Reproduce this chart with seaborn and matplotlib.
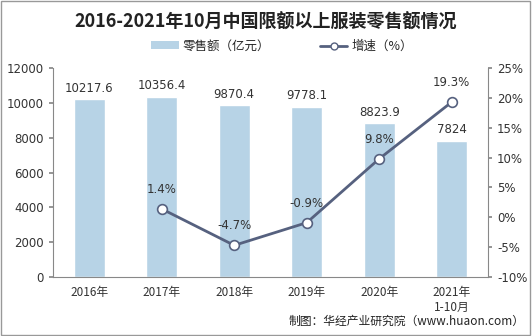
import matplotlib
matplotlib.use("Agg")
import matplotlib.pyplot as plt
import seaborn as sns
import numpy as np
import pandas as pd
from matplotlib.lines import Line2D
from matplotlib.patches import Patch, Rectangle

categories = ["2016年", "2017年", "2018年", "2019年", "2020年", "2021年\n1-10月"]
sales = [10217.6, 10356.4, 9870.4, 9778.1, 8823.9, 7824]
growth = [np.nan, 1.4, -4.7, -0.9, 9.8, 19.3]
sales_labels = ["10217.6", "10356.4", "9870.4", "9778.1", "8823.9", "7824"]
growth_labels = ["", "1.4%", "-4.7%", "-0.9%", "9.8%", "19.3%"]

sns.set_theme(style="white")
plt.rcParams['font.family'] = ['Noto Sans CJK SC', 'DejaVu Sans']
plt.rcParams['axes.unicode_minus'] = False

bar_color = "#b7d3e6"
line_color = "#56617f"
text_color = "#333333"

fig = plt.figure(figsize=(5.32, 3.36), dpi=100)
ax = fig.add_axes([53/532, 59/336, 435/532, 209/336])

df = pd.DataFrame({"cat": categories, "sales": sales, "growth": growth})
sns.barplot(data=df, x="cat", y="sales", color=bar_color, width=0.43,
            saturation=1, ax=ax, order=categories)
ax.set_ylim(0, 12000)
ax.set_yticks(range(0, 12001, 2000))
ax.set_xlabel("")
ax.set_ylabel("")
ax.tick_params(axis="both", labelsize=8.5, colors=text_color, length=3)
ax.tick_params(axis="y", direction="out", left=True, color="#888888")
ax.tick_params(axis="x", bottom=False)
for s in ["top", "right"]:
    ax.spines[s].set_visible(False)
for s in ["left", "bottom"]:
    ax.spines[s].set_color("#888888")
    ax.spines[s].set_linewidth(0.8)

for i, (v, lab) in enumerate(zip(sales, sales_labels)):
    ax.text(i, v + 250, lab, ha="center", va="bottom", fontsize=8.5,
            color=text_color, family=['DejaVu Sans'])

ax2 = ax.twinx()
pos = np.arange(len(categories))
gdf = pd.DataFrame({"x": pos, "growth": growth}).dropna()
sns.lineplot(data=gdf, x="x", y="growth", ax=ax2, color=line_color,
             linewidth=2, marker="o", markersize=7, markerfacecolor="white",
             markeredgecolor=line_color, markeredgewidth=1.2)
ax2.set_ylim(-10, 25)
ax2.set_yticks(range(-10, 26, 5))
ax2.set_yticklabels([f"{t}%" for t in range(-10, 26, 5)])
ax2.set_ylabel("")
ax2.set_xlabel("")
ax2.tick_params(axis="y", labelsize=8.5, colors=text_color, length=3,
                direction="out", right=True, color="#888888")
for s in ["top", "left", "bottom"]:
    ax2.spines[s].set_visible(False)
ax2.spines["right"].set_color("#888888")
ax2.spines["right"].set_linewidth(0.8)
ax2.set_xlim(-0.5, len(categories) - 0.5)
ax.set_xlim(-0.5, len(categories) - 0.5)

for i, (g, lab) in enumerate(zip(growth, growth_labels)):
    if not np.isnan(g):
        ax2.text(i, g + 2.2, lab, ha="center", va="bottom", fontsize=8.5,
                 color=text_color, family=['DejaVu Sans'])

for lbl in ax.get_yticklabels() + ax2.get_yticklabels():
    lbl.set_family(['DejaVu Sans', 'Noto Sans CJK SC'])
for lbl in ax.get_xticklabels():
    lbl.set_family(['Noto Sans CJK SC', 'DejaVu Sans'])

fig.text(0.5, 0.935, "2016-2021年10月中国限额以上服装零售额情况", ha="center",
         va="center", fontsize=13, fontweight="bold", color="#222222")

handles = [Patch(facecolor=bar_color, edgecolor="none"),
           Line2D([0], [0], color=line_color, lw=2, marker="o", markersize=5,
                  markerfacecolor="white", markeredgecolor=line_color)]
fig.legend(handles, ["零售额（亿元）", "增速（%）"], loc="center",
           bbox_to_anchor=(0.53, 0.862), ncol=2, frameon=False, fontsize=9,
           handlelength=2.2, handleheight=0.6, columnspacing=4, handletextpad=0.3)

fig.text(0.985, 0.045, "制图：华经产业研究院（www.huaon.com）", ha="right",
         va="center", fontsize=8.5, color="#222222")

fig.patches.append(Rectangle((0.002, 0.003), 0.995, 0.993, transform=fig.transFigure,
                             fill=False, edgecolor="#999999", linewidth=1))

fig.savefig("out.png", dpi=100)
